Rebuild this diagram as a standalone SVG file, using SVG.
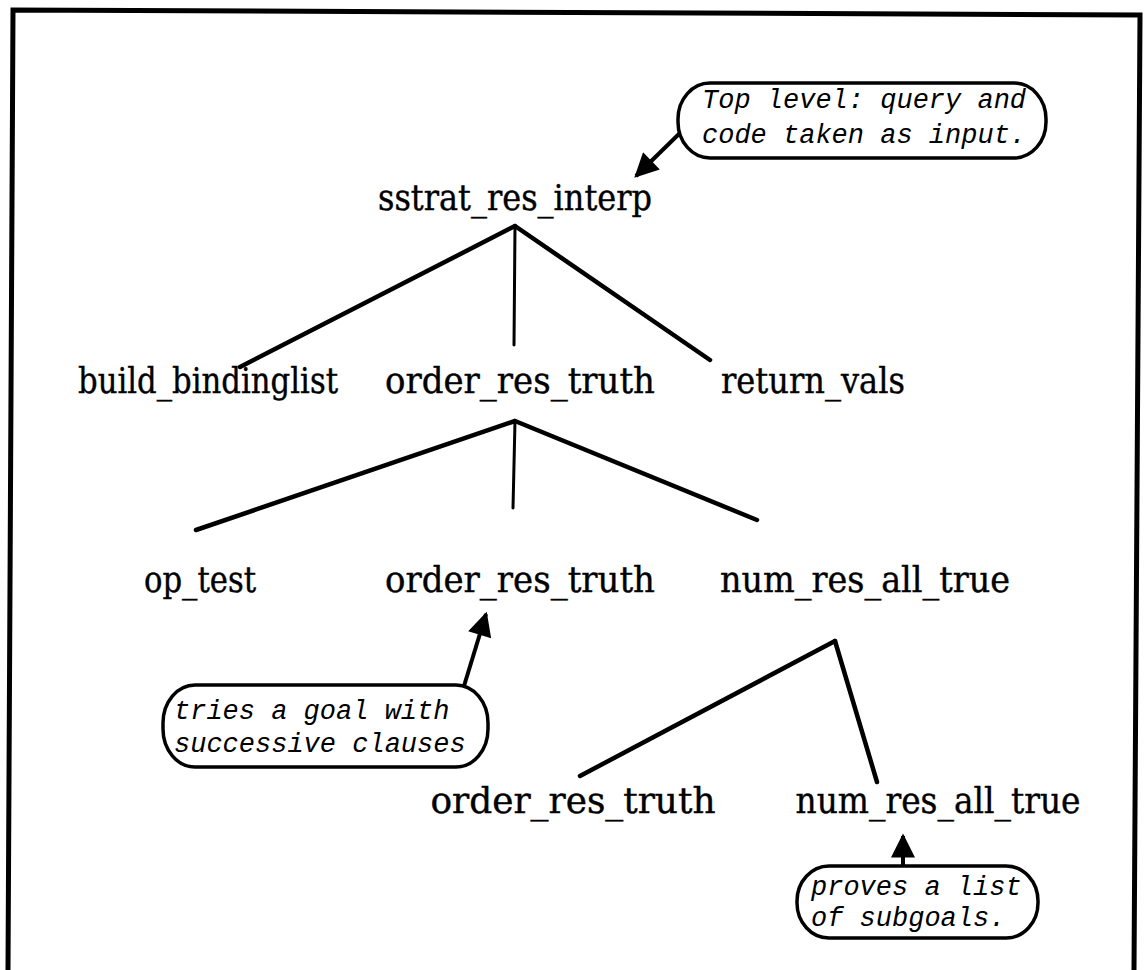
<svg xmlns="http://www.w3.org/2000/svg" width="1145" height="970" viewBox="0 0 1145 970">
  <style>
    .frame { fill: none; stroke: #000; stroke-width: 5; }
    .edge { fill: none; stroke: #000; stroke-width: 4.5; stroke-linecap: round; }
    .edge.thin { stroke-width: 3; }
    .pointer { fill: none; stroke: #000; stroke-width: 4; }
    .bubble { fill: #fff; stroke: #000; stroke-width: 3.5; }
    .label { font-family: "DejaVu Serif", "Liberation Serif", serif; font-size: 35px; fill: #000; stroke: #000; stroke-width: 0.4; }
    .note { font-family: "Liberation Mono", "DejaVu Sans Mono", monospace; font-style: italic; font-size: 27px; fill: #000; }
  </style>
  <defs>
    <marker id="head" viewBox="0 0 10 10" refX="9" refY="5" markerWidth="6.5" markerHeight="6" markerUnits="strokeWidth" orient="auto">
      <path d="M0,0 L10,5 L0,10 Z" fill="#000"/>
    </marker>
  </defs>

  <rect width="1145" height="970" fill="#fff"/>

  <!-- outer frame, open at the bottom -->
  <path class="frame" d="M8,970 L13,10 L1140,15 L1134,970"/>

  <!-- tree edges and callout pointers -->
  <g id="connectors">
    <line class="edge" x1="515" y1="226" x2="240" y2="367"/>
    <line class="edge thin" x1="515" y1="226" x2="514" y2="345"/>
    <line class="edge" x1="515" y1="226" x2="710" y2="360"/>

    <line class="edge" x1="515" y1="421" x2="196" y2="530"/>
    <line class="edge thin" x1="515" y1="421" x2="513" y2="508"/>
    <line class="edge" x1="515" y1="421" x2="757" y2="520"/>

    <line class="edge" x1="835" y1="641" x2="580" y2="776"/>
    <line class="edge" x1="835" y1="641" x2="877" y2="782"/>

    <line class="pointer" x1="682" y1="131" x2="636" y2="176" marker-end="url(#head)"/>
    <line class="pointer" x1="464" y1="686" x2="486" y2="614" marker-end="url(#head)"/>
    <line class="pointer" x1="903" y1="866" x2="903" y2="836" marker-end="url(#head)"/>
  </g>

  <g id="n-sstrat-res-interp">
    <text class="label" x="515" y="210" text-anchor="middle" textLength="274" lengthAdjust="spacingAndGlyphs">sstrat_res_interp</text>
  </g>
  <g id="n-build-bindinglist">
    <text class="label" x="208" y="393" text-anchor="middle" textLength="260" lengthAdjust="spacingAndGlyphs">build_bindinglist</text>
  </g>
  <g id="n-order-res-truth-1">
    <text class="label" x="520" y="393" text-anchor="middle" textLength="270" lengthAdjust="spacingAndGlyphs">order_res_truth</text>
  </g>
  <g id="n-return-vals">
    <text class="label" x="813" y="393" text-anchor="middle" textLength="184" lengthAdjust="spacingAndGlyphs">return_vals</text>
  </g>
  <g id="n-op-test">
    <text class="label" x="200" y="592" text-anchor="middle" textLength="112" lengthAdjust="spacingAndGlyphs">op_test</text>
  </g>
  <g id="n-order-res-truth-2">
    <text class="label" x="520" y="592" text-anchor="middle" textLength="270" lengthAdjust="spacingAndGlyphs">order_res_truth</text>
  </g>
  <g id="n-num-res-all-true-1">
    <text class="label" x="865" y="592" text-anchor="middle" textLength="290" lengthAdjust="spacingAndGlyphs">num_res_all_true</text>
  </g>
  <g id="n-order-res-truth-3">
    <text class="label" x="573" y="813" text-anchor="middle" textLength="285" lengthAdjust="spacingAndGlyphs">order_res_truth</text>
  </g>
  <g id="n-num-res-all-true-2">
    <text class="label" x="938" y="813" text-anchor="middle" textLength="285" lengthAdjust="spacingAndGlyphs">num_res_all_true</text>
  </g>

  <!-- annotation bubbles -->
  <g id="note-top-level">
    <rect class="bubble" x="678" y="83" width="368" height="75" rx="32" ry="36"/>
    <text class="note" x="702" y="108">Top level: query and</text>
    <text class="note" x="702" y="143">code taken as input.</text>
  </g>
  <g id="note-tries-goal">
    <rect class="bubble" x="163" y="685" width="325" height="82" rx="32" ry="38"/>
    <text class="note" x="174" y="719">tries a goal with</text>
    <text class="note" x="174" y="752">successive clauses</text>
  </g>
  <g id="note-proves-list">
    <rect class="bubble" x="797" y="866" width="241" height="72" rx="32" ry="35"/>
    <text class="note" x="811" y="895">proves a list</text>
    <text class="note" x="811" y="926">of subgoals.</text>
  </g>
</svg>
